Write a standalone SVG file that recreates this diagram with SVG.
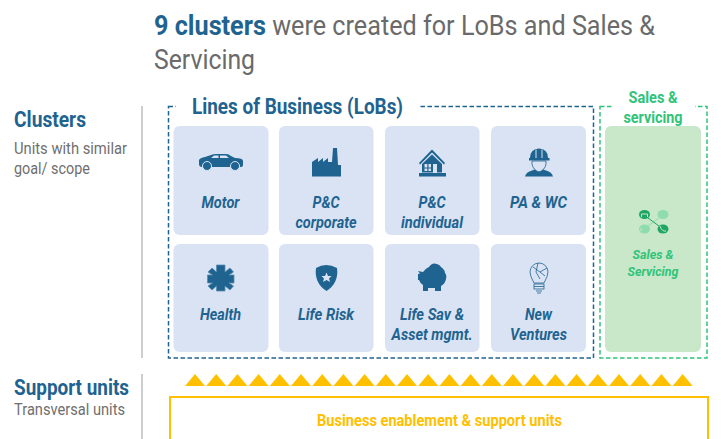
<svg xmlns="http://www.w3.org/2000/svg" width="721" height="439" viewBox="0 0 721 439">
<style>
text{font-family:Roboto,"Liberation Sans",sans-serif}
.card{fill:#dae3f3}
.cl{font-size:17px;font-weight:700;font-style:italic;fill:#1f6390;text-anchor:middle}
.ic{fill:#1f6390}
.icl{fill:none;stroke:#1f6390;stroke-width:.8}
.tri{fill:#ffc000}
.sep{stroke:#bfbfbf;stroke-width:1.500;fill:none}
.side{font-size:22px;font-weight:700;fill:#1f6390}
.sub{font-size:16px;fill:#6f6f6f}
</style>
<g id="title">
<text x="154" y="35" font-size="27.500" fill="#6a6a6a" textLength="501" lengthAdjust="spacingAndGlyphs"><tspan font-weight="700" fill="#1f6390">9 clusters</tspan> were created for LoBs and Sales &amp;</text>
<text x="154" y="69" font-size="27.500" fill="#6a6a6a" textLength="101" lengthAdjust="spacingAndGlyphs">Servicing</text>
</g>
<g id="left-labels">
<text class="side" x="14" y="127" textLength="72" lengthAdjust="spacingAndGlyphs">Clusters</text>
<text class="sub" x="14" y="154" textLength="113" lengthAdjust="spacingAndGlyphs">Units with similar</text>
<text class="sub" x="14" y="174" textLength="76" lengthAdjust="spacingAndGlyphs">goal/ scope</text>
<text class="side" x="14" y="395" textLength="115" lengthAdjust="spacingAndGlyphs">Support units</text>
<text class="sub" x="14" y="415" textLength="111" lengthAdjust="spacingAndGlyphs">Transversal units</text>
<path class="sep" d="M142 106V358M142 374V439"/>
</g>
<g id="lob-frame">
<rect x="168.500" y="106.500" width="425" height="251.500" fill="none" stroke="#1f6390" stroke-width="1.500" stroke-dasharray="4.500 2.500"/>
<rect x="176" y="96" width="243" height="20" fill="#fff"/>
<text x="297.500" y="114" font-size="22" font-weight="700" fill="#1f6390" text-anchor="middle" textLength="211" lengthAdjust="spacingAndGlyphs">Lines of Business (LoBs)</text>
</g>
<g id="sales-frame">
<rect x="600" y="106.500" width="107" height="251.500" fill="none" stroke="#2fc47a" stroke-width="1.500" stroke-dasharray="4.500 2.500"/>
<rect x="612" y="97" width="83" height="20" fill="#fff"/>
<text x="653" y="103" font-size="17" font-weight="700" fill="#2fc47a" text-anchor="middle" textLength="49" lengthAdjust="spacingAndGlyphs">Sales &amp;</text>
<text x="653" y="123" font-size="17" font-weight="700" fill="#2fc47a" text-anchor="middle" textLength="59" lengthAdjust="spacingAndGlyphs">servicing</text>
</g>
<g id="motor">
<rect class="card" x="173.500" y="126" width="95" height="109" rx="6"/>
<path class="ic" d="M199 160Q200 158 205 157L211 155Q213 154 216 154H226Q229 154 231 156L235 158Q243 158 243 161V165Q243 167 240 167H202Q199 167 199 164Z"/>
<path fill="#dae3f3" d="M211 158L214 155.500H218.500V158ZM220 155.500H226L229 158H220Z"/>
<circle class="ic" cx="207" cy="166" r="4.500" stroke="#dae3f3"/><circle class="ic" cx="235" cy="166" r="4.500" stroke="#dae3f3"/>
<text class="cl" x="220.500" y="208" textLength="38" lengthAdjust="spacingAndGlyphs">Motor</text>
</g>
<g id="pc-corporate">
<rect class="card" x="279" y="126" width="94.500" height="109" rx="6"/>
<path class="ic" d="M312 176.500V162L318 158V162L323 158V162L328 158V162H332L333 148H337L338 165H341V176.500Z"/>
<text class="cl" x="326" y="208" textLength="27" lengthAdjust="spacingAndGlyphs">P&amp;C</text>
<text class="cl" x="326" y="228" textLength="61" lengthAdjust="spacingAndGlyphs">corporate</text>
</g>
<g id="pc-individual">
<rect class="card" x="385" y="126" width="94.500" height="109" rx="6"/>
<path class="ic" d="M419 163L432 149.500L445 163L444 164.500L432 152.500L420 164.500Z"/>
<path class="ic" d="M422 164L432 154.500L442 164V172.500H437V164H433V172.500H422ZM424.500 164V167.500H427.300V164ZM428.500 164V167.500H431V164ZM424.500 168.500V171H427.300V168.500ZM428.500 168.500V171H431V168.500Z" fill-rule="evenodd"/>
<rect class="ic" x="419" y="173" width="27" height="3.500"/>
<text class="cl" x="432" y="208" textLength="27" lengthAdjust="spacingAndGlyphs">P&amp;C</text>
<text class="cl" x="432" y="228" textLength="62" lengthAdjust="spacingAndGlyphs">individual</text>
</g>
<g id="pa-wc">
<rect class="card" x="491" y="126" width="95" height="109" rx="6"/>
<path class="ic" d="M530 158Q530 149 539 148.500Q548 149 548 158H549.500V160.500H529V158Z"/>
<path d="M536 149.500V158M542 149.500V158" stroke="#dae3f3" stroke-width="1" fill="none"/>
<path d="M532 161V164Q533 170 539 172Q545 170 546 164V161Z" fill="#dae3f3" stroke="#1f6390" stroke-width=".8"/>
<path class="ic" d="M525 176.500Q526 172 532 170.500L535 169.500Q539 174 543 169.500L546 170.500Q552 172 553 176.500Z"/>
<text class="cl" x="538.500" y="208" textLength="57" lengthAdjust="spacingAndGlyphs">PA &amp; WC</text>
</g>
<g id="health">
<rect class="card" x="173.500" y="244" width="95" height="108" rx="6"/>
<path class="ic" stroke="#5b8db0" stroke-width=".8" d="M216.500 265H225V272L230 268L233.500 272L229 275H234V283H229L233.500 286L230 290L225 286V291H216.500V286L212 290L208 286L212.500 283H207.500V275H212.500L208 272L212 268L216.500 272Z"/>
<text class="cl" x="220.500" y="320" textLength="41" lengthAdjust="spacingAndGlyphs">Health</text>
</g>
<g id="life-risk">
<rect class="card" x="279" y="244" width="94.500" height="108" rx="6"/>
<path class="ic" d="M316 268Q326 262 337 268Q339 283 326.500 291Q314 283 316 268Z"/>
<path fill="#dae3f3" d="M326.500 272.500L328 276H331.500L329 278.500L330 282L326.500 280L323 282L324 278.500L321.500 276H325Z"/>
<text class="cl" x="326" y="320" textLength="56" lengthAdjust="spacingAndGlyphs">Life Risk</text>
</g>
<g id="life-sav">
<rect class="card" x="385" y="244" width="94.500" height="108" rx="6"/>
<path class="ic" d="M418 271L423 272Q426 268 429 267Q432 262 437 264Q440 265 441 267Q445 270 445 273Q447 275 446 279Q445 284 441 286V291H435V288H428V291H423V285Q420 283 419 280H418V274L420 273.500Z"/>
<text class="cl" x="432" y="320" textLength="64" lengthAdjust="spacingAndGlyphs">Life Sav &amp;</text>
<text class="cl" x="432" y="340" textLength="81" lengthAdjust="spacingAndGlyphs">Asset mgmt.</text>
</g>
<g id="new-ventures">
<rect class="card" x="491" y="244" width="95" height="108" rx="6"/>
<g class="icl">
<path d="M534 283Q530 276 530 272A9 9 0 0 1 548 272Q548 276 544 283Z"/>
<path d="M533 267L540 272L547 268M538 263L536 272L540 279M540 272L545 276"/>
<rect x="534" y="284" width="10" height="5"/><path d="M536 291H542M537 293H541M534 286.500H544"/>
</g>
<text class="cl" x="538.500" y="320" textLength="27" lengthAdjust="spacingAndGlyphs">New</text>
<text class="cl" x="538.500" y="340" textLength="57" lengthAdjust="spacingAndGlyphs">Ventures</text>
</g>
<g id="sales-servicing">
<rect x="605" y="126" width="96" height="226" rx="6" fill="#c9e7c9"/>
<path d="M663 215L644 229" stroke="#8fdcb0" stroke-width="1" fill="none"/>
<path d="M644 215L663 229" stroke="#1fa566" stroke-width="1" fill="none"/>
<ellipse cx="644.500" cy="214.500" rx="5.500" ry="4.500" fill="#1fa566"/>
<ellipse cx="663" cy="214.500" rx="5.500" ry="4.500" fill="#8fdcb0"/>
<ellipse cx="644.500" cy="229" rx="5.500" ry="4.500" fill="#8fdcb0"/>
<ellipse cx="663" cy="229" rx="5.500" ry="4.500" fill="#1fa566"/>
<path d="M641.500 214H647.500V217M641.500 214V217M641 228V231M660 226Q662 232 666 231" stroke="#c9e7c9" stroke-width="1" fill="none"/>
<text x="653" y="259" font-size="13.500" font-weight="700" font-style="italic" fill="#2fc47a" text-anchor="middle" textLength="41" lengthAdjust="spacingAndGlyphs">Sales &amp;</text>
<text x="653" y="276" font-size="13.500" font-weight="700" font-style="italic" fill="#2fc47a" text-anchor="middle" textLength="51" lengthAdjust="spacingAndGlyphs">Servicing</text>
</g>
<g id="support-arrows">
<path class="tri" d="M185 386L195 374L205 386ZM206.200 386L216.200 374L226.200 386ZM227.400 386L237.400 374L247.400 386ZM248.600 386L258.600 374L268.600 386ZM269.800 386L279.800 374L289.800 386ZM291 386L301 374L311 386ZM312.200 386L322.200 374L332.200 386ZM333.400 386L343.400 374L353.400 386ZM354.600 386L364.600 374L374.600 386ZM375.800 386L385.800 374L395.800 386ZM397 386L407 374L417 386ZM418.200 386L428.200 374L438.200 386ZM439.400 386L449.400 374L459.400 386ZM460.600 386L470.600 374L480.600 386ZM481.800 386L491.800 374L501.800 386ZM503 386L513 374L523 386ZM524.200 386L534.200 374L544.200 386ZM545.400 386L555.400 374L565.400 386ZM566.600 386L576.600 374L586.600 386ZM587.800 386L597.800 374L607.800 386ZM609 386L619 374L629 386ZM630.200 386L640.200 374L650.200 386ZM651.400 386L661.400 374L671.400 386ZM672.600 386L682.600 374L692.600 386Z"/>
</g>
<g id="support-units">
<path d="M170 439V397H708V439" fill="none" stroke="#ffc000" stroke-width="2"/>
<text x="439.500" y="426" font-size="17" font-weight="700" fill="#ffc000" text-anchor="middle" textLength="245" lengthAdjust="spacingAndGlyphs">Business enablement &amp; support units</text>
</g>
</svg>
